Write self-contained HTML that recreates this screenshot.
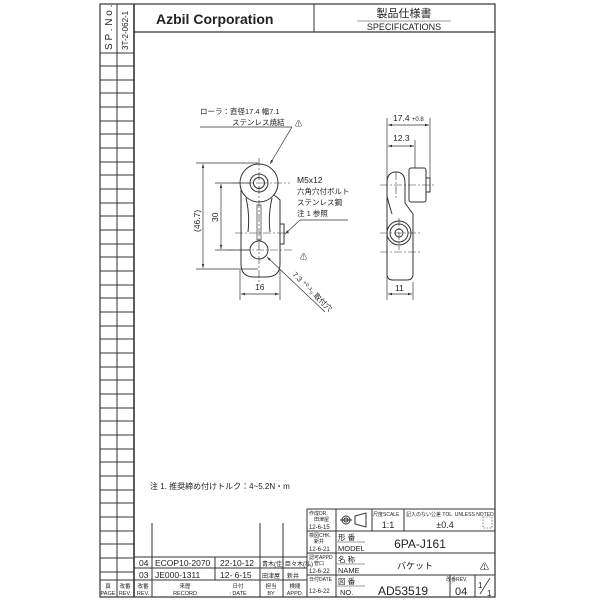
<!DOCTYPE html>
<html><head><meta charset="utf-8"><style>
html,body{margin:0;padding:0;background:#fff}
svg{display:block}
text{font-family:"Liberation Sans","Noto Sans CJK JP",sans-serif;fill:#222}
</style></head><body>
<svg width="600" height="600" viewBox="0 0 600 600" xmlns="http://www.w3.org/2000/svg">
<defs><marker id="a" viewBox="0 0 10 10" refX="10" refY="5" markerWidth="6" markerHeight="6" orient="auto-start-reverse"><path d="M0,2 L10,5 L0,8 z" fill="#333"/></marker></defs>
<g stroke="#333" fill="none" stroke-width="1">
<rect x="100" y="4" width="395" height="593" stroke-width="1.2"/>
<line x1="117" y1="4" x2="117" y2="597"/>
<line x1="134" y1="4" x2="134" y2="597" stroke-width="1.6"/>
<line x1="134" y1="32" x2="495" y2="32" stroke-width="1.2"/>
<line x1="314" y1="4" x2="314" y2="32"/>
<line x1="100" y1="53" x2="134" y2="53"/>
<line x1="100" y1="66" x2="134" y2="66"/>
<line x1="100" y1="80" x2="134" y2="80"/><line x1="100" y1="93" x2="134" y2="93"/>
<line x1="100" y1="107" x2="134" y2="107"/><line x1="100" y1="121" x2="134" y2="121"/>
<line x1="100" y1="134" x2="134" y2="134"/><line x1="100" y1="148" x2="134" y2="148"/>
<line x1="100" y1="162" x2="134" y2="162"/><line x1="100" y1="175" x2="134" y2="175"/>
<line x1="100" y1="189" x2="134" y2="189"/><line x1="100" y1="203" x2="134" y2="203"/>
<line x1="100" y1="216" x2="134" y2="216"/><line x1="100" y1="230" x2="134" y2="230"/>
<line x1="100" y1="244" x2="134" y2="244"/><line x1="100" y1="257" x2="134" y2="257"/>
<line x1="100" y1="271" x2="134" y2="271"/><line x1="100" y1="285" x2="134" y2="285"/>
<line x1="100" y1="298" x2="134" y2="298"/><line x1="100" y1="312" x2="134" y2="312"/>
<line x1="100" y1="326" x2="134" y2="326"/><line x1="100" y1="339" x2="134" y2="339"/>
<line x1="100" y1="353" x2="134" y2="353"/><line x1="100" y1="367" x2="134" y2="367"/>
<line x1="100" y1="380" x2="134" y2="380"/><line x1="100" y1="394" x2="134" y2="394"/>
<line x1="100" y1="408" x2="134" y2="408"/><line x1="100" y1="421" x2="134" y2="421"/>
<line x1="100" y1="435" x2="134" y2="435"/><line x1="100" y1="449" x2="134" y2="449"/>
<line x1="100" y1="462" x2="134" y2="462"/><line x1="100" y1="476" x2="134" y2="476"/>
<line x1="100" y1="490" x2="134" y2="490"/><line x1="100" y1="503" x2="134" y2="503"/>
<line x1="100" y1="517" x2="134" y2="517"/><line x1="100" y1="531" x2="134" y2="531"/>
<line x1="100" y1="544" x2="134" y2="544"/><line x1="100" y1="558" x2="134" y2="558"/>
<line x1="100" y1="572" x2="134" y2="572"/><line x1="100" y1="580" x2="134" y2="580"/>
<line x1="134" y1="557" x2="307" y2="557"/><line x1="134" y1="568" x2="307" y2="568"/>
<line x1="134" y1="580" x2="307" y2="580"/>
<line x1="152" y1="523" x2="152" y2="597"/><line x1="215" y1="557" x2="215" y2="580"/>
<line x1="260" y1="523" x2="260" y2="597"/><line x1="283" y1="523" x2="283" y2="597"/>
<rect x="307" y="509" width="188" height="88"/>
<line x1="307" y1="531" x2="495" y2="531"/><line x1="307" y1="553" x2="495" y2="553"/>
<line x1="307" y1="575" x2="495" y2="575"/>
<line x1="336" y1="509" x2="336" y2="597"/>
<line x1="372" y1="509" x2="372" y2="531"/><line x1="404" y1="509" x2="404" y2="531"/>
<line x1="450" y1="575" x2="450" y2="597"/><line x1="475" y1="575" x2="475" y2="597"/>
<line x1="337" y1="542" x2="365" y2="542" stroke-width="0.6"/><line x1="337" y1="564" x2="365" y2="564" stroke-width="0.6"/><line x1="337" y1="586" x2="365" y2="586" stroke-width="0.6"/>
<line x1="480" y1="594" x2="490" y2="578" stroke-width="0.8"/>
<rect x="483" y="517" width="9" height="11" stroke-dasharray="1.5,1.5" stroke-width="0.6"/>
<circle cx="346" cy="520" r="4"/><circle cx="346" cy="520" r="2"/><line x1="340" y1="520" x2="352" y2="520"/>
<path d="M355,516 L366,513 L366,527 L355,524 z"/>
<line x1="357" y1="21" x2="451" y2="21" stroke-width="0.6"/>
<circle cx="259" cy="183" r="19"/><circle cx="259" cy="183" r="9"/><circle cx="259" cy="183" r="5.5"/>
<circle cx="259" cy="250" r="9"/>
<path d="M241,190 L241,264 Q241,277 254,277 L266,277 Q280,277 280,264 L280,200 Q277,197 274,195"/>
<path d="M246,198 Q250,215 248,232 M272,198 Q268,215 270,232"/>
<rect x="280" y="224" width="4" height="20"/>
<rect x="257" y="205" width="4" height="35" stroke-width="0.7"/>
<g stroke-width="0.6" stroke-dasharray="8,2,2,2">
<line x1="259" y1="158" x2="259" y2="285"/><line x1="232" y1="183" x2="290" y2="183"/>
<line x1="228" y1="250" x2="292" y2="250"/><line x1="235" y1="233" x2="290" y2="233"/>
</g>
<g stroke-width="0.7">
<line x1="196" y1="163" x2="258" y2="163"/><line x1="196" y1="269" x2="258" y2="269"/>
<line x1="203" y1="164" x2="203" y2="268" marker-start="url(#a)" marker-end="url(#a)"/>
<line x1="215" y1="183" x2="250" y2="183"/><line x1="215" y1="250" x2="250" y2="250"/>
<line x1="221" y1="184" x2="221" y2="249" marker-start="url(#a)" marker-end="url(#a)"/>
<line x1="240" y1="270" x2="240" y2="300"/><line x1="280" y1="270" x2="280" y2="300"/>
<line x1="241" y1="294" x2="279" y2="294" marker-start="url(#a)" marker-end="url(#a)"/>
<line x1="200" y1="127" x2="292" y2="127"/><line x1="292" y1="127" x2="270" y2="164" marker-end="url(#a)"/>
<line x1="348" y1="220" x2="300" y2="220"/><line x1="300" y1="220" x2="285" y2="234" marker-end="url(#a)"/>
<line x1="325" y1="312" x2="267" y2="257" marker-end="url(#a)"/>
</g>
<rect x="409" y="168" width="17" height="34" rx="2"/>
<rect x="426" y="178" width="4" height="14"/>
<path d="M387,183 Q387,172 396,172 Q405,172 405,183 L405,203 Q410,210 413,214 L413,274 Q413,280 407,280 L393,280 Q387,280 387,274 z"/>
<path d="M387,196 Q390,208 392,214"/>
<circle cx="399" cy="233" r="12"/><circle cx="399" cy="233" r="9"/><circle cx="399" cy="233" r="4"/>
<g stroke-width="0.6" stroke-dasharray="8,2,2,2">
<line x1="380" y1="185" x2="435" y2="185"/><line x1="396" y1="172" x2="396" y2="200"/>
<line x1="380" y1="233" x2="420" y2="233"/><line x1="399" y1="218" x2="399" y2="250"/>
<line x1="380" y1="252" x2="420" y2="252"/>
</g>
<g stroke-width="0.7">
<line x1="387" y1="118" x2="387" y2="300"/><line x1="430" y1="118" x2="430" y2="178"/>
<line x1="415" y1="140" x2="415" y2="168"/><line x1="413" y1="282" x2="413" y2="300"/>
<line x1="388" y1="125" x2="429" y2="125" marker-start="url(#a)" marker-end="url(#a)"/>
<line x1="388" y1="146" x2="414" y2="146" marker-start="url(#a)" marker-end="url(#a)"/>
<line x1="388" y1="294" x2="412" y2="294" marker-start="url(#a)" marker-end="url(#a)"/>
</g>
</g>
<text x="156" y="24" font-size="14" font-weight="bold">Azbil Corporation</text>
<text x="404" y="17" font-size="11" text-anchor="middle">製品仕様書</text>
<text x="404" y="30" font-size="9" text-anchor="middle" fill="#555">SPECIFICATIONS</text>
<text transform="translate(112,50) rotate(-90)" font-size="10">S P .  N o .</text>
<text transform="translate(128,50) rotate(-90)" font-size="8">3T-2-062-1</text>
<g font-size="7.5">
<text x="200" y="114">ローラ：直径17.4  幅7.1</text>
<text x="232" y="125">ステンレス焼結</text>
<text x="297" y="183" font-size="8.5">M5x12</text>
<text x="297" y="194">六角穴付ボルト</text>
<text x="297" y="205">ステンレス鋼</text>
<text x="297" y="216">注 1 参照</text>
<text x="255" y="290" font-size="8.5">16</text>
<text transform="translate(218,222) rotate(-90)" font-size="8.5">30</text>
<text transform="translate(200,232) rotate(-90)" font-size="8.5">(46.7)</text>
<text transform="translate(292,275) rotate(45)">7.3 ⁺⁰·¹₀ 取付穴</text>
<text x="393" y="121" font-size="8.5">17.4 <tspan font-size="6">+0.8</tspan></text>
<text x="393" y="141" font-size="8.5">12.3</text>
<text x="395" y="291" font-size="8.5">11</text>
<text x="295" y="126" font-size="7">⚠</text>
<text x="300" y="259" font-size="7">⚠</text>
<text x="150" y="489" font-size="8">注   1. 推奨締め付けトルク：4~5.2N・m</text>
</g>
<g font-size="8.5">
<text x="139" y="566">04</text><text x="155" y="566">ECOP10-2070</text><text x="220" y="566">22-10-12</text>
<text x="139" y="578">03</text><text x="155" y="578">JE000-1311</text><text x="220" y="578">12- 6-15</text>
<text x="262" y="566" font-size="6">青木(佳)</text><text x="285" y="566" font-size="6">臣々木(私)</text>
<text x="262" y="578" font-size="6">田津屋</text><text x="287" y="578" font-size="6">新井</text>
</g>
<g font-size="5.5" text-anchor="middle">
<text x="108" y="588">頁</text><text x="108" y="595">PAGE</text>
<text x="125" y="588">改番</text><text x="125" y="595">REV.</text>
<text x="143" y="588">改番</text><text x="143" y="595">REV.</text>
<text x="185" y="588">来歴</text><text x="185" y="595">RECORD</text>
<text x="238" y="588">日付</text><text x="238" y="595">: DATE</text>
<text x="271" y="588">担当</text><text x="271" y="595">BY</text>
<text x="295" y="588">検閲</text><text x="295" y="595">APPD.</text>
</g>
<g font-size="5">
<text x="309" y="515">作成DR.</text><text x="314" y="521">田津屋</text><text x="309" y="529" font-size="6">12-6-15</text>
<text x="309" y="537">検図CHK.</text><text x="314" y="543">新井</text><text x="309" y="551" font-size="6">12-6-21</text>
<text x="309" y="559">認可APPD</text><text x="314" y="565">管口</text><text x="309" y="573" font-size="6">12-6-22</text>
<text x="309" y="581">日付DATE</text><text x="309" y="593" font-size="6">12-6-22</text>
<text x="373" y="516">尺度SCALE</text><text x="406" y="516">記入のない公差 TOL. UNLESS NOTED</text>
<text x="446" y="581">改番REV.</text>
</g>
<g font-size="7.5">
<text x="338" y="540">形  番</text><text x="338" y="551">MODEL</text>
<text x="338" y="562">名  称</text><text x="338" y="573">NAME</text>
<text x="338" y="584">図  番</text><text x="340" y="595">NO.</text>
</g>
<text x="388" y="528" font-size="9" text-anchor="middle">1:1</text>
<text x="445" y="528" font-size="9" text-anchor="middle">±0.4</text>
<text x="420" y="548" font-size="12" text-anchor="middle" fill="#444">6PA-J161</text>
<text x="415" y="569" font-size="9" text-anchor="middle">バケット</text>
<text x="480" y="570" font-size="9">⚠</text>
<text x="378" y="595" font-size="12" fill="#444">AD53519</text>
<text x="455" y="595" font-size="11" fill="#444">04</text>
<text x="478" y="588" font-size="8">1</text><text x="487" y="596" font-size="8">1</text>
</svg>
</body></html>
